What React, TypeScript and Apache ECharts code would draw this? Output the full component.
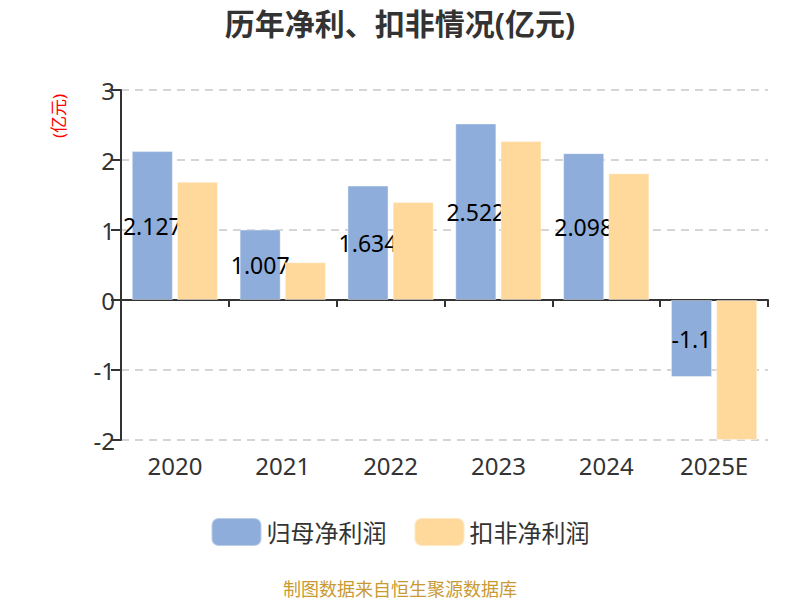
import React, { useEffect, useRef } from "react";
import * as echarts from "echarts";

const categories = ["2020", "2021", "2022", "2023", "2024", "2025E"];
const netProfit = [2.127, 1.007, 1.634, 2.522, 2.098, -1.1];
const deductedProfit = [1.69, 0.54, 1.4, 2.27, 1.81, -2.0];
const seriesNames = ["归母净利润", "扣非净利润"];
const titleText = "历年净利、扣非情况(亿元)";
const unitText = "(亿元)";
const footerText = "制图数据来自恒生聚源数据库";

const FONT = "'Noto Sans', 'Noto Sans CJK SC', sans-serif";

export default function App() {
  const ref = useRef<HTMLDivElement>(null);
  useEffect(() => {
    if (!ref.current) return;
    const chart = echarts.init(ref.current, null, { renderer: "svg" });
    chart.setOption({
      animation: false,
      backgroundColor: "#fff",
      textStyle: { fontFamily: FONT },
      title: {
        text: titleText,
        left: "center",
        top: 3,
        textStyle: { fontSize: 30, fontWeight: "bold", color: "#333", fontFamily: FONT },
      },
      legend: {
        data: seriesNames,
        bottom: 48,
        left: "center",
        icon: "roundRect",
        itemWidth: 50,
        itemHeight: 28,
        itemGap: 27,
        textStyle: { fontSize: 24, color: "#333", fontFamily: FONT },
      },
      grid: { left: 121, right: 32, top: 90, bottom: 160, containLabel: false },
      xAxis: [
        {
          type: "category",
          data: categories,
          position: "bottom",
          axisLine: { show: false, onZero: false },
          axisTick: { show: false },
          axisLabel: { fontSize: 24, color: "#333", margin: 13, fontFamily: FONT },
        },
        {
          type: "category",
          data: categories,
          position: "top",
          axisLine: { show: true, onZero: true, lineStyle: { color: "#333", width: 2 } },
          axisTick: { show: true, inside: true, length: 7, lineStyle: { color: "#333", width: 2 } },
          axisLabel: { show: false },
        },
      ],
      yAxis: {
        type: "value",
        min: -2,
        max: 3,
        interval: 1,
        axisLine: { show: true, lineStyle: { color: "#333", width: 2 } },
        axisTick: { show: true, length: 10, lineStyle: { color: "#333", width: 2 } },
        axisLabel: { fontSize: 24, color: "#333", margin: 6, fontFamily: FONT },
        splitLine: { show: true, lineStyle: { type: [8, 6], color: "#c8c8c8", width: 1.5 } },
      },
      graphic: [
        {
          type: "text",
          x: 58,
          y: 116,
          rotation: Math.PI / 2,
          style: {
            text: unitText,
            fill: "#ff0000",
            fontSize: 17,
            fontFamily: FONT,
            textAlign: "center",
            textVerticalAlign: "middle",
          },
        },
        {
          type: "text",
          x: 400,
          y: 589,
          style: {
            text: footerText,
            fill: "#c99a34",
            fontSize: 18,
            fontFamily: FONT,
            textAlign: "center",
            textVerticalAlign: "middle",
          },
        },
      ],
      series: [
        {
          name: seriesNames[0],
          type: "bar",
          xAxisIndex: 1,
          data: netProfit,
          barGap: "10%",
          barCategoryGap: "20%",
          z: 2,
          itemStyle: { color: "#8eadda", borderColor: "rgba(255,255,255,0.4)", borderWidth: 1 },
          label: {
            show: true,
            position: "inside",
            color: "#000",
            fontSize: 23,
            fontFamily: FONT,
          },
        },
        {
          name: seriesNames[1],
          type: "bar",
          xAxisIndex: 1,
          data: deductedProfit,
          barGap: "10%",
          barCategoryGap: "20%",
          z: 3,
          itemStyle: { color: "#fed99b", borderColor: "rgba(255,255,255,0.4)", borderWidth: 1 },
          label: { show: false },
        },
      ],
    });
    return () => chart.dispose();
  }, []);
  return (
    <div
      ref={ref}
      style={{ position: "fixed", left: 0, top: 0, width: 800, height: 600 }}
    />
  );
}
